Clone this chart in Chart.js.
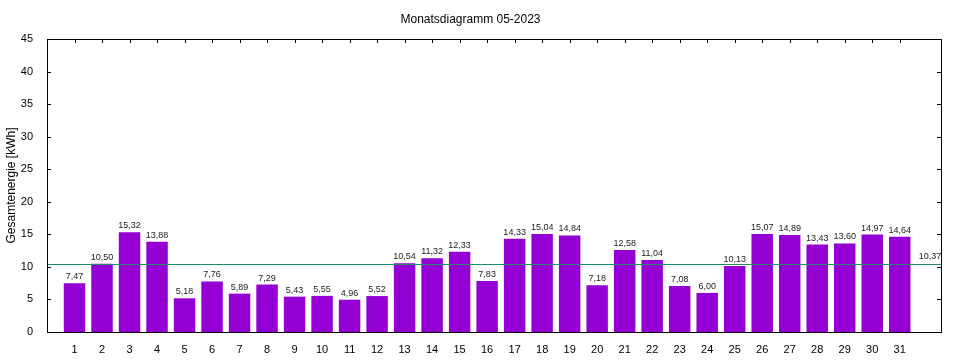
<!DOCTYPE html>
<html>
<head>
<meta charset="utf-8">
<script src="https://cdn.jsdelivr.net/npm/chart.js@4"></script>
<style>
html,body{margin:0;padding:0;background:#fff;}
#wrap{width:960px;height:360px;}
</style>
</head>
<body>
<div id="wrap"><canvas id="c" width="960" height="360"></canvas></div>
<script>
const chartTitle = "Monatsdiagramm 05-2023";
const yAxisTitle = "Gesamtenergie [kWh]";
const days = [1,2,3,4,5,6,7,8,9,10,11,12,13,14,15,16,17,18,19,20,21,22,23,24,25,26,27,28,29,30,31];
const energy = [7.47,10.50,15.32,13.88,5.18,7.76,5.89,7.29,5.43,5.55,4.96,5.52,10.54,11.32,12.33,7.83,14.33,15.04,14.84,7.18,12.58,11.04,7.08,6.00,10.13,15.07,14.89,13.43,13.60,14.97,14.64];
const average = 10.37;
const yTicks = [0,5,10,15,20,25,30,35,40,45];

const fmt = v => v.toFixed(2).replace('.', ',');
const FONT = "'Liberation Sans', Arial, sans-serif";

const framePlugin = {
  id: 'frame',
  beforeDatasetsDraw(chart) {
    const {ctx, chartArea: a, scales: {x, y}} = chart;
    ctx.save();
    ctx.strokeStyle = '#000';
    ctx.lineWidth = 1;
    ctx.beginPath();
    const tl = 4;
    yTicks.forEach(v => {
      if (v === 0 || v === 45) return;
      const py = Math.round(y.getPixelForValue(v)) + 0.5;
      ctx.moveTo(a.left, py); ctx.lineTo(a.left + tl, py);
      ctx.moveTo(a.right, py); ctx.lineTo(a.right - tl, py);
    });
    days.forEach(d => {
      const px = Math.round(x.getPixelForValue(d)) + 0.5;
      ctx.moveTo(px, a.top); ctx.lineTo(px, a.top + tl);
      ctx.moveTo(px, a.bottom); ctx.lineTo(px, a.bottom - tl);
    });
    ctx.stroke();
    ctx.restore();
  },
  afterDatasetsDraw(chart) {
    const {ctx, chartArea: a, scales: {x, y}} = chart;
    ctx.save();
    ctx.fillStyle = '#222';
    ctx.font = "9px " + FONT;
    ctx.textAlign = 'center';
    ctx.textBaseline = 'bottom';
    days.forEach((d, i) => {
      ctx.fillText(fmt(energy[i]), x.getPixelForValue(d), y.getPixelForValue(energy[i]) - 2);
    });
    ctx.fillText(fmt(average), x.getPixelForValue(32.1), y.getPixelForValue(average) - 3);
    ctx.strokeStyle = '#000';
    ctx.lineWidth = 1;
    ctx.strokeRect(Math.round(a.left) + 0.5, Math.round(a.top) + 0.5, Math.round(a.right - a.left), Math.round(a.bottom - a.top));
    ctx.restore();
  }
};

new Chart(document.getElementById('c'), {
  type: 'bar',
  data: {
    datasets: [
      {
        type: 'bar',
        data: days.map((d, i) => ({x: d, y: energy[i]})),
        backgroundColor: '#9400d3',
        borderWidth: 0,
        categoryPercentage: 1,
        barPercentage: 0.78,
        order: 2
      },
      {
        type: 'line',
        data: [{x: 0, y: average}, {x: 32.5, y: average}],
        borderColor: '#21896f',
        borderWidth: 1.2,
        pointRadius: 0,
        fill: false,
        order: 1
      }
    ]
  },
  options: {
    responsive: false,
    animation: false,
    layout: {padding: {left: 0, right: 19, top: 0, bottom: 0}},
    plugins: {
      legend: {display: false},
      tooltip: {enabled: false},
      title: {
        display: true,
        text: chartTitle,
        color: '#000',
        font: {family: FONT, size: 12, weight: 'normal'},
        padding: {top: 12, bottom: 12.6}
      }
    },
    scales: {
      x: {
        type: 'linear',
        offset: false,
        min: 0,
        max: 32.5,
        grid: {display: false, offset: false},
        border: {display: false},
        afterFit: s => { s.height = 28; },
        ticks: {
          stepSize: 1,
          autoSkip: false,
          maxRotation: 0,
          padding: 3,
          color: '#000',
          font: {family: FONT, size: 11},
          callback: v => (days.includes(v) ? String(v) : '')
        }
      },
      y: {
        min: 0,
        max: 45,
        grid: {display: false},
        border: {display: false},
        afterFit: s => { s.width = 47; },
        ticks: {
          stepSize: 5,
          padding: 6,
          color: '#000',
          font: {family: FONT, size: 11}
        },
        title: {
          display: true,
          text: yAxisTitle,
          color: '#000',
          font: {family: FONT, size: 12},
          padding: {top: 4, bottom: 0}
        }
      }
    }
  },
  plugins: [framePlugin]
});
</script>
</body>
</html>
